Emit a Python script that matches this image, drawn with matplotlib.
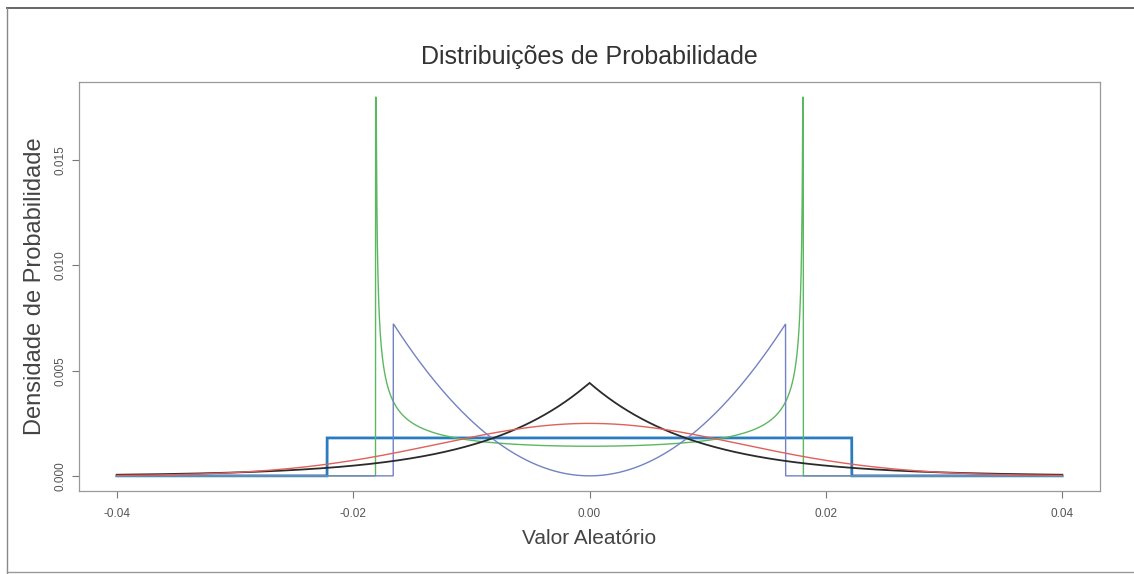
import numpy as np
import matplotlib
matplotlib.use("Agg")
import matplotlib.pyplot as plt
from matplotlib.lines import Line2D

plt.rcParams['font.family'] = ['Liberation Sans', 'DejaVu Sans']

# ---- data ----
title = "Distribuições de Probabilidade"
xlabel = "Valor Aleatório"
ylabel = "Densidade de Probabilidade"
x_range = [-0.04, 0.04]
grid_step = 0.00008          # densities are shown per grid step (density * step)
x_ticks = [-0.04, -0.02, 0.00, 0.02, 0.04]
x_tick_labels = ["-0.04", "-0.02", "0.00", "0.02", "0.04"]
y_ticks = [0.000, 0.005, 0.010, 0.015]
y_tick_labels = ["0.000", "0.005", "0.010", "0.015"]

dist_names = ["Uniforme", "Arcoseno", "U-quadrática", "Laplace", "Normal"]
dist_params = [0.0222, 0.0181, 0.0166, 0.00905, 0.0128]   # half-width / scale / sd
arcsine_peak = 0.018
colors = ["#2a7cc0", "#5cb860", "#7282c4", "#2b2b2b", "#e0605a"]
widths = [2.0, 1.0, 1.0, 1.3, 1.0]

# ---- curves ----
x = np.linspace(x_range[0], x_range[1], 8001)


def density(name, p):
    if name == "Uniforme":
        return np.where(np.abs(x) <= p, 1.0 / (2 * p), 0.0)
    if name == "Arcoseno":
        inside = np.abs(x) < p
        d = np.zeros_like(x)
        d[inside] = 1.0 / (np.pi * np.sqrt(p ** 2 - x[inside] ** 2))
        return d
    if name == "U-quadrática":
        return np.where(np.abs(x) <= p, 1.5 / p ** 3 * x ** 2, 0.0)
    if name == "Laplace":
        return 1.0 / (2 * p) * np.exp(-np.abs(x) / p)
    return 1.0 / (p * np.sqrt(2 * np.pi)) * np.exp(-0.5 * (x / p) ** 2)


fig = plt.figure(figsize=(11.34, 5.74), dpi=100)
ax = fig.add_axes([79 / 1134, 1 - 491 / 574, (1100 - 79) / 1134, (491 - 82) / 574])

for name, p, c, w in zip(dist_names, dist_params, colors, widths):
    y = density(name, p) * grid_step
    if name == "Arcoseno":
        y = np.minimum(y, arcsine_peak)
    ax.plot(x, y, color=c, lw=w, solid_joinstyle='miter')

ymax = arcsine_peak
span = x_range[1] - x_range[0]
ax.set_xlim(x_range[0] - 0.04 * span, x_range[1] + 0.04 * span)
ax.set_ylim(-0.04 * ymax, 1.04 * ymax)

ax.set_xticks(x_ticks)
ax.set_xticklabels(x_tick_labels)
ax.set_yticks(y_ticks)
ax.set_yticklabels(y_tick_labels, rotation=90, va='center')
ax.tick_params(axis='both', direction='out', length=5, width=0.8, color='#777777',
               labelsize=8.5, labelcolor='#555555')
ax.tick_params(axis='x', pad=7)
ax.tick_params(axis='y', pad=4)
for s in ax.spines.values():
    s.set_color('#999999')
    s.set_linewidth(0.9)

ax.set_title(title, fontsize=18, color='#333333', pad=13)
ax.set_xlabel(xlabel, fontsize=15, color='#444444', labelpad=7)
ax.set_ylabel(ylabel, fontsize=17, color='#444444', labelpad=6)

# outer frame (page border)
fig.add_artist(Line2D([7 / 1134, 1.0], [1 - 8 / 574, 1 - 8 / 574], color='#666666', lw=1.4,
                      transform=fig.transFigure))
fig.add_artist(Line2D([7 / 1134, 7 / 1134], [1 - 8 / 574, 0.0], color='#888888', lw=1.0,
                      transform=fig.transFigure))
fig.add_artist(Line2D([7 / 1134, 1.0], [1 - 572 / 574, 1 - 572 / 574], color='#999999', lw=1.0,
                      transform=fig.transFigure))

fig.savefig("out.png", dpi=100)
